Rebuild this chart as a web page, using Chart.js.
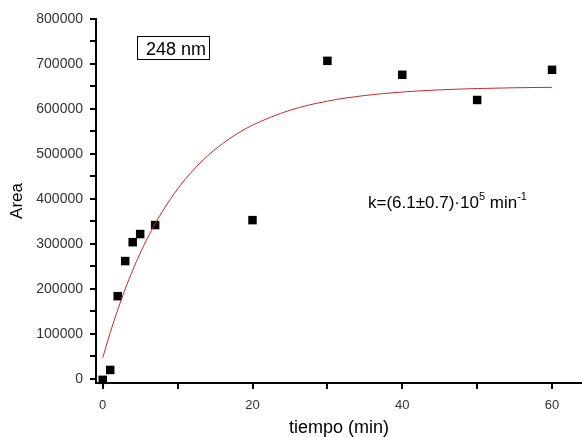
<!DOCTYPE html>
<html>
<head>
<meta charset="utf-8">
<script src="https://cdn.jsdelivr.net/npm/chart.js@4/dist/chart.umd.min.js"></script>
<style>
  html, body { margin: 0; padding: 0; background: #fff; }
  #wrap { width: 582px; height: 437px; }
</style>
</head>
<body>
<div id="wrap"><canvas id="c"></canvas></div>
<script>
// measured points
const timeMin = [0, 1, 2, 3, 4, 5, 7, 20, 30, 40, 50, 60];
const area = [-2000, 20000, 184000, 262000, 304000, 322000, 342000, 353000, 707000, 676000, 620000, 687000];

// fitted curve
const fitTime = [0, 1, 2, 3, 4, 5, 6, 7, 8, 10, 12, 14, 16, 18, 20, 25, 30, 35, 40, 45, 50, 55, 60];
const fitArea = [47000, 103000, 153700, 199800, 241600, 279500, 313900, 345100, 373300, 422300,
  462600, 495800, 523100, 545600, 564100, 597200, 617500, 630000, 637700, 642500, 645400, 647200, 648200];

const xTicks = [0, 10, 20, 30, 40, 50, 60];
const xLabels = [0, 20, 40, 60];
const yTicks = [0, 50000, 100000, 150000, 200000, 250000, 300000, 350000, 400000,
  450000, 500000, 550000, 600000, 650000, 700000, 750000, 800000];

const FONT = "'Liberation Sans', Arial, sans-serif";

const labelsPlugin = {
  id: 'labels',
  afterDraw(chart) {
    const ctx = chart.ctx;
    ctx.save();
    // "248 nm" box
    ctx.strokeStyle = '#000';
    ctx.lineWidth = 1;
    ctx.strokeRect(137.5, 36.5, 72, 23);
    ctx.fillStyle = '#000';
    ctx.font = '18px ' + FONT;
    ctx.textBaseline = 'alphabetic';
    ctx.textAlign = 'left';
    ctx.fillText('248 nm', 146, 55);

    // rate constant
    let x = 368;
    const y = 208;
    const parts = [
      ['k=(6.1±0.7)·10', 0],
      ['5', 1],
      [' min', 0],
      ['-1', 1],
    ];
    parts.forEach(([t, sup]) => {
      ctx.font = (sup ? '11px ' : '17px ') + FONT;
      ctx.fillText(t, x, sup ? y - 8 : y);
      x += ctx.measureText(t).width;
    });
    ctx.restore();
  },
};

new Chart(document.getElementById('c'), {
  type: 'scatter',
  data: {
    datasets: [
      {
        type: 'line',
        label: 'fit',
        data: fitTime.map((t, i) => ({ x: t, y: fitArea[i] })),
        borderColor: '#c8282d',
        borderWidth: 1,
        pointRadius: 0,
        cubicInterpolationMode: 'monotone',
      },
      {
        label: 'Area',
        data: timeMin.map((t, i) => ({ x: t, y: area[i] })),
        pointStyle: 'rect',
        pointRadius: 6,
        pointHoverRadius: 6,
        backgroundColor: '#000',
        borderColor: '#000',
        borderWidth: 0,
        clip: false,
      },
    ],
  },
  options: {
    responsive: true,
    maintainAspectRatio: false,
    animation: false,
    layout: { autoPadding: false, padding: { top: 19, right: 0, left: 0, bottom: 0 } },
    plugins: { legend: { display: false }, tooltip: { enabled: false } },
    scales: {
      x: {
        type: 'linear',
        min: -0.9,
        max: 64,
        afterBuildTicks: (s) => { s.ticks = xTicks.map((v) => ({ value: v })); },
        afterFit: (s) => { s.height = 54; },
        border: { color: '#000', width: 2 },
        grid: { drawOnChartArea: false, drawTicks: true, tickLength: 6, color: '#000', lineWidth: 2 },
        ticks: {
          color: '#333',
          font: { family: FONT, size: 13 },
          padding: 9,
          maxRotation: 0,
          autoSkip: false,
          callback: (v) => (xLabels.includes(v) ? String(v) : ''),
        },
        title: { display: true, text: 'tiempo (min)', color: '#000', font: { family: FONT, size: 18 }, padding: { top: 0, bottom: -2 } },
      },
      y: {
        type: 'linear',
        min: -9000,
        max: 800000,
        afterBuildTicks: (s) => { s.ticks = yTicks.map((v) => ({ value: v })); },
        afterFit: (s) => { s.width = 96; },
        border: { color: '#000', width: 2 },
        grid: { drawOnChartArea: false, drawTicks: true, tickLength: 6, color: '#000', lineWidth: 2 },
        ticks: {
          color: '#333',
          font: { family: FONT, size: 14 },
          padding: 7,
          autoSkip: false,
          callback: (v) => (v % 100000 === 0 ? String(v) : ''),
        },
        title: { display: true, text: 'Area', color: '#000', font: { family: FONT, size: 17 }, padding: { top: 7, bottom: 0 } },
      },
    },
  },
  plugins: [labelsPlugin],
});
</script>
</body>
</html>
